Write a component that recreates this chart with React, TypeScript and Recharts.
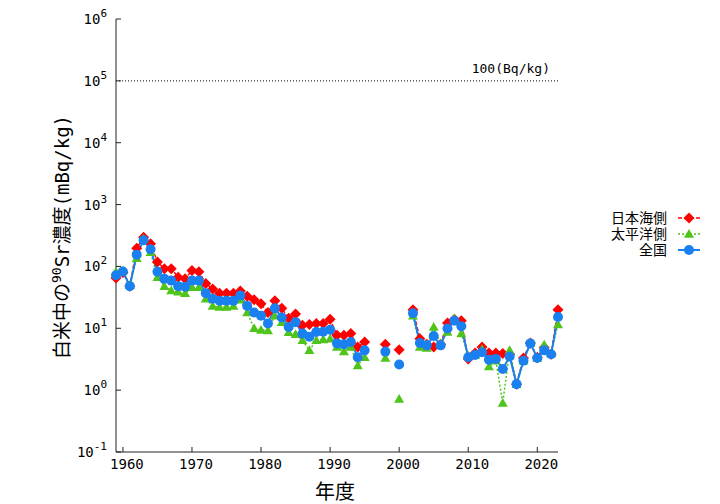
import { LineChart, Line, XAxis, YAxis, ReferenceLine } from "recharts"

// fiscal years (null = no survey that year)
const years = [
  1959, 1960, 1961, 1962, 1963, 1964, 1965, 1966, 1967, 1968,
  1969, 1970, 1971, 1972, 1973, 1974, 1975, 1976, 1977, 1978,
  1979, 1980, 1981, 1982, 1983, 1984, 1985, 1986, 1987, 1988,
  1989, 1990, 1991, 1992, 1993, 1994, 1995, 1996, 1997, 1998,
  1999, 2000, 2001, 2002, 2003, 2004, 2005, 2006, 2007, 2008,
  2009, 2010, 2011, 2012, 2013, 2014, 2015, 2016, 2017, 2018,
  2019, 2020, 2021, 2022, 2023,
]

// 90Sr in polished rice, mBq/kg
const japanSea = [
  65, 80, 48, 197, 297, 232, 118, 92, 92, 67,
  63, 86, 82, 53, 43, 37, 37, 37, 40, 33,
  29, 25, 18, 28, 21, 14.5, 17, 11.2, 11.5, 12,
  12, 14, 7.7, 7.7, 8.2, 5.0, 6.0, null, null, 5.5,
  null, 4.5, null, 20, 6.8, 5.5, 5.0, 5.5, 12.2, 14,
  13.2, 3.2, 4.0, 5.0, 4.0, 4.0, 3.9, 3.8, 1.25, 3.3,
  5.8, 3.4, 4.9, 3.8, 20,
]
const pacific = [
  82, 86, 50, 135, 280, 170, 67, 48, 41, 39,
  37, 46, 46, 30, 23, 22, 22, 23, 29, 18,
  10, 9.4, 9.2, 16, 12.5, 8.6, 8.0, 6.4, 4.4, 6.4,
  6.6, 6.8, 5.0, 4.2, 5.0, 2.5, 3.4, null, null, 3.3,
  null, 0.72, null, 16, 5.0, 4.8, 10.5, 5.6, 8.7, 14.3,
  8.2, 3.6, 3.7, 4.6, 2.4, 3.0, 0.62, 4.4, 1.25, 3.0,
  5.8, 3.3, 5.4, 3.9, 11.5,
]
const national = [
  72, 83, 48, 155, 265, 190, 82, 63, 59, 48,
  47, 59, 59, 37, 30, 28, 28, 28, 34, 23,
  18, 16, 12, 21, 15, 10.5, 12.5, 8.2, 7.3, 8.7,
  8.8, 9.5, 5.7, 5.5, 6.0, 3.4, 4.4, null, null, 4.2,
  null, 2.6, null, 17.5, 5.8, 5.3, 7.5, 5.3, 9.9, 13.2,
  10.8, 3.4, 3.7, 4.1, 3.1, 3.2, 2.2, 3.5, 1.25, 3.0,
  5.7, 3.3, 4.4, 3.8, 15.2,
]

const xTicks = [1960, 1970, 1980, 1990, 2000, 2010, 2020]
const yTicks = [0.1, 1, 10, 100, 1000, 10000, 100000, 1000000]
const yExponents = ["-1", "0", "1", "2", "3", "4", "5", "6"]

const data = years.map((year, i) => ({
  year,
  japanSea: japanSea[i],
  pacific: pacific[i],
  national: national[i],
}))

const RED = "#ff0000"
const GREEN = "#4fc41a"
const BLUE = "#1a80f0"
const AXIS = "#222"
const MONO = "'DejaVu Sans Mono', 'Noto Sans CJK JP', monospace"

function diamondPath(cx: number, cy: number, r: number) {
  return `M${cx},${cy - r}L${cx + r},${cy}L${cx},${cy + r}L${cx - r},${cy}Z`
}
function trianglePath(cx: number, cy: number, r: number) {
  return `M${cx},${cy - r}L${cx + r},${cy + r * 0.75}L${cx - r},${cy + r * 0.75}Z`
}

// eslint-disable-next-line @typescript-eslint/no-explicit-any
function DiamondDot(props: any) {
  const { cx, cy, index } = props
  if (cx == null || cy == null || props.value == null) return <g key={`d${index}`} />
  return <path key={`d${index}`} d={diamondPath(cx, cy, 5.5)} fill={RED} />
}
// eslint-disable-next-line @typescript-eslint/no-explicit-any
function TriangleDot(props: any) {
  const { cx, cy, index } = props
  if (cx == null || cy == null || props.value == null) return <g key={`t${index}`} />
  return <path key={`t${index}`} d={trianglePath(cx, cy, 5)} fill={GREEN} />
}
// eslint-disable-next-line @typescript-eslint/no-explicit-any
function CircleDot(props: any) {
  const { cx, cy, index } = props
  if (cx == null || cy == null || props.value == null) return <g key={`c${index}`} />
  return <circle key={`c${index}`} cx={cx} cy={cy} r={5} fill={BLUE} />
}

// eslint-disable-next-line @typescript-eslint/no-explicit-any
function XTick({ x, y, payload }: any) {
  return (
    <g>
      <line x1={x} x2={x} y1={y} y2={y - 5} stroke={AXIS} />
      <text x={x + 4} y={y + 17} textAnchor="middle" fontSize={14} fontFamily={MONO} fill="#000">
        {payload.value}
      </text>
    </g>
  )
}

// eslint-disable-next-line @typescript-eslint/no-explicit-any
function YTick({ x, y, payload, index }: any) {
  const exp = yExponents[index] ?? String(Math.round(Math.log10(payload.value)))
  return (
    <g>
      <line x1={x} x2={x + 5} y1={y} y2={y} stroke={AXIS} />
      <text x={x - 9} y={y + 5} textAnchor="end" fontSize={14} fontFamily={MONO} fill="#000">
        <tspan>10</tspan>
        <tspan dy={-7} fontSize={11}>{exp}</tspan>
      </text>
    </g>
  )
}

function LegendRow({ y, label, color, dash, marker }: {
  y: number; label: string; color: string; dash?: string; marker: "d" | "t" | "c"
}) {
  return (
    <g>
      <text x={667} y={y + 5} textAnchor="end" fontSize={14} fontFamily={MONO} fill="#000">{label}</text>
      <line x1={678} x2={700} y1={y} y2={y} stroke={color} strokeWidth={marker === "c" ? 2 : 1.5} strokeDasharray={dash} />
      {marker === "d" && <path d={diamondPath(689, y, 5.5)} fill={color} />}
      {marker === "t" && <path d={trianglePath(689, y, 5)} fill={color} />}
      {marker === "c" && <circle cx={689} cy={y} r={5} fill={color} />}
    </g>
  )
}

export default function App() {
  return (
    <div style={{ position: "absolute", left: 0, top: 0, width: 720, height: 504, background: "#fff" }}>
      <LineChart width={720} height={504} data={data} margin={{ top: 19, right: 162, left: 0, bottom: 0 }}>
        <XAxis
          type="number"
          dataKey="year"
          domain={[1959, 2023]}
          ticks={xTicks}
          axisLine={{ stroke: AXIS }}
          tickLine={false}
          tickSize={0}
          tickMargin={0}
          height={52}
          tick={<XTick />}
        />
        <YAxis
          scale="log"
          domain={[0.1, 1000000]}
          ticks={yTicks}
          axisLine={{ stroke: AXIS }}
          tickLine={false}
          tickSize={0}
          tickMargin={0}
          width={116}
          tick={<YTick />}
        />
        <ReferenceLine
          y={100000}
          stroke="#000"
          strokeDasharray="1 2"
          label={{
            value: "100(Bq/kg)",
            position: "insideBottomRight",
            offset: 8,
            fontSize: 13,
            fontFamily: MONO,
            fill: "#000",
          }}
        />
        <Line
          dataKey="japanSea"
          stroke={RED}
          strokeWidth={1.5}
          strokeDasharray="4 2"
          dot={DiamondDot}
          activeDot={false}
          isAnimationActive={false}
        />
        <Line
          dataKey="pacific"
          stroke={GREEN}
          strokeWidth={1.5}
          strokeDasharray="2 2"
          dot={TriangleDot}
          activeDot={false}
          isAnimationActive={false}
        />
        <Line
          dataKey="national"
          stroke={BLUE}
          strokeWidth={2}
          dot={CircleDot}
          activeDot={false}
          isAnimationActive={false}
        />
      </LineChart>
      <svg width={720} height={504} style={{ position: "absolute", left: 0, top: 0, pointerEvents: "none" }}>
        <text
          transform="translate(69,237) rotate(-90)"
          textAnchor="middle"
          fontSize={19}
          fontFamily={MONO}
          fill="#000"
        >
          <tspan>白米中の</tspan>
          <tspan dy={-8} fontSize={13}>90</tspan>
          <tspan dy={8}>Sr濃度(mBq/kg)</tspan>
        </text>
        <text x={335} y={499} textAnchor="middle" fontSize={20} fontFamily={MONO} fill="#000">年度</text>
        <LegendRow y={218} label="日本海側" color={RED} dash="4 2" marker="d" />
        <LegendRow y={234} label="太平洋側" color={GREEN} dash="2 2" marker="t" />
        <LegendRow y={250} label="全国" color={BLUE} marker="c" />
      </svg>
    </div>
  )
}
